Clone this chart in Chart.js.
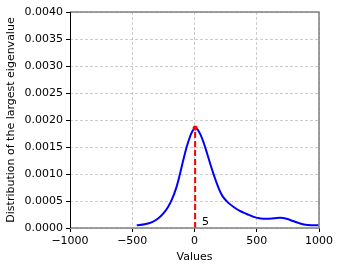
<!DOCTYPE html>
<html>
<head>
<meta charset="utf-8">
<script src="https://cdn.jsdelivr.net/npm/chart.js@4/dist/chart.umd.min.js"></script>
<style>
  html, body { margin: 0; padding: 0; background: #fff; }
  #wrap { width: 341px; height: 271px; position: relative; }
</style>
</head>
<body>
<div id="wrap"><canvas id="eigChart"></canvas></div>
<script>
// density curve of the largest eigenvalue
const xVals = [-464, -400, -340, -290, -250, -215, -183, -150, -120, -90, -63, -36, -15, 5, 25, 50, 75, 100, 125, 157, 190, 225, 270, 320, 370, 420, 470, 520, 580, 640, 690, 740, 790, 840, 890, 940, 1000];
const yVals = [0.00005, 0.00007, 0.00011, 0.00018, 0.00027, 0.00038, 0.00052, 0.00072, 0.00097, 0.00126, 0.0015, 0.00169, 0.0018, 0.00185, 0.00182, 0.00172, 0.00157, 0.00139, 0.0012, 0.00097, 0.00076, 0.00059, 0.00047, 0.00038, 0.00031, 0.00026, 0.00021, 0.00018, 0.00017, 0.00018, 0.00019, 0.00017, 0.00013, 0.00009, 0.00006, 0.00005, 0.00005];

// marker for the observed value
const markX = 5;
const markY = 0.00185;
const markLabel = '5';

const xTicks = [-1000, -500, 0, 500, 1000];
const yTicks = [0, 0.0005, 0.001, 0.0015, 0.002, 0.0025, 0.003, 0.0035, 0.004];

const font = { family: 'DejaVu Sans', size: 11 };

// spines + label for the dashed line
const extras = {
  id: 'extras',
  afterDraw(chart) {
    const { ctx, chartArea: a, scales } = chart;
    ctx.save();
    ctx.lineWidth = 1.5;
    ctx.strokeStyle = '#808080';
    ctx.beginPath();
    ctx.moveTo(a.left, a.top); ctx.lineTo(a.right, a.top);
    ctx.lineTo(a.right, a.bottom); ctx.lineTo(a.left, a.bottom);
    ctx.stroke();
    ctx.lineWidth = 1;
    ctx.strokeStyle = '#000';
    ctx.beginPath();
    ctx.moveTo(a.left + 0.5, a.top); ctx.lineTo(a.left + 0.5, a.bottom);
    ctx.stroke();

    ctx.fillStyle = '#000';
    ctx.font = '11px "DejaVu Sans"';
    ctx.textBaseline = 'middle';
    ctx.fillText(markLabel, scales.x.getPixelForValue(markX) + 7, scales.y.getPixelForValue(0.0001));
    ctx.restore();
  }
};

const ctx = document.getElementById('eigChart');

const chart = new Chart(ctx, {
  type: 'scatter',
  data: {
    datasets: [{
      data: xVals.map((x, i) => ({ x: x, y: yVals[i] })),
      showLine: true,
      borderColor: '#0000ff',
      borderWidth: 2,
      pointRadius: 0,
      tension: 0.35,
      order: 2
    }, {
      data: [{ x: markX, y: 0 }, { x: markX, y: markY }],
      showLine: true,
      borderColor: '#ff0000',
      backgroundColor: '#ff0000',
      borderWidth: 2,
      borderDash: [6, 3],
      pointRadius: [0, 2.5],
      pointBorderWidth: 0,
      order: 1
    }]
  },
  options: {
    responsive: true,
    maintainAspectRatio: false,
    animation: false,
    layout: { padding: { top: 12, right: 22, left: 0, bottom: 0 } },
    plugins: {
      legend: { display: false },
      tooltip: { enabled: false }
    },
    scales: {
      x: {
        type: 'linear',
        min: -1000,
        max: 1000,
        afterBuildTicks: (s) => { s.ticks = xTicks.map(v => ({ value: v })); },
        afterFit: (s) => { s.height = 43; },
        ticks: {
          font: font,
          color: '#000',
          padding: 3,
          maxRotation: 0,
          callback: (v) => String(v).replace('-', '\u2212')
        },
        grid: {
          color: '#c0c0c0',
          lineWidth: 0.8,
          drawTicks: true,
          tickLength: 4,
          tickColor: '#000',
          tickWidth: 1,
          tickBorderDash: []
        },
        border: { display: false, dash: [3, 2] },
        title: {
          display: true,
          text: 'Values',
          font: font,
          color: '#000',
          padding: { top: 2, bottom: 7 }
        }
      },
      y: {
        type: 'linear',
        min: 0,
        max: 0.004,
        afterBuildTicks: (s) => { s.ticks = yTicks.map(v => ({ value: v })); },
        afterFit: (s) => { s.width = 70; },
        ticks: {
          font: font,
          color: '#000',
          padding: 3,
          callback: (v) => v.toFixed(4)
        },
        grid: {
          color: '#c0c0c0',
          lineWidth: 0.8,
          drawTicks: true,
          tickLength: 4,
          tickColor: '#000',
          tickWidth: 1,
          tickBorderDash: []
        },
        border: { display: false, dash: [3, 2] },
        title: {
          display: true,
          text: 'Distribution of the largest eigenvalue',
          font: font,
          color: '#000',
          padding: { top: 5, bottom: 2 }
        }
      }
    }
  },
  plugins: [extras]
});
</script>
</body>
</html>
